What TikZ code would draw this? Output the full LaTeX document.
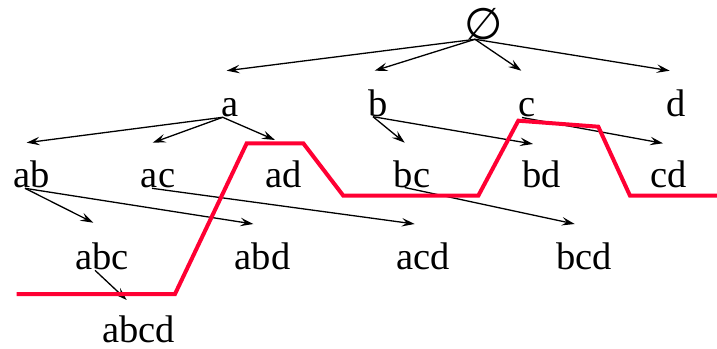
\documentclass[tikz,border=0pt]{standalone}
\usepackage{fontspec}
\setmainfont{Liberation Serif}
\newfontfamily\symfont{DejaVu Sans}
\usetikzlibrary{arrows.meta}
\definecolor{cutred}{RGB}{255,0,51}
\begin{document}
\begin{tikzpicture}[x=1pt,y=-1pt,
  lbl/.style={inner sep=0pt,anchor=base,font=\fontsize{38.5}{40}\selectfont},
  arr/.style={line width=1.3pt,-{Stealth[length=13pt,width=8.5pt,inset=5pt]}},
  cut/.style={line width=4pt,cutred,line join=miter}]
\useasboundingbox (0,0) rectangle (717,348);
% nodes
\node[inner sep=0pt,font=\symfont\fontsize{44}{46}\selectfont] (e) at (483.5,24.5) {∅};
\node[lbl] (a) at (230,116.5) {a};
\node[lbl] (b) at (378,116) {b};
\node[lbl] (c) at (527,116.5) {c};
\node[lbl] (d) at (676,116.5) {d};
\node[lbl] (ab) at (31.7,187) {ab};
\node[lbl] (ac) at (158,187) {ac};
\node[lbl] (ad) at (284,187) {ad};
\node[lbl] (bc) at (412,187) {bc};
\node[lbl] (bd) at (541.7,187) {bd};
\node[lbl] (cd) at (669,187) {cd};
\node[lbl] (abc) at (102,269.5) {abc};
\node[lbl] (abd) at (262.5,269.5) {abd};
\node[lbl] (acd) at (423,269.5) {acd};
\node[lbl] (bcd) at (584,269.5) {bcd};
\node[lbl] (abcd) at (138.5,342.5) {abcd};
% arrows
\draw[arr] ([shift={(-8.5,14.8)}]e.center) -- ([shift={(-3.3,-45.8)}]a.base);
\draw[arr] ([shift={(-8.5,14.8)}]e.center) -- ([shift={(-3.3,-45.3)}]b.base);
\draw[arr] ([shift={(-8.5,14.8)}]e.center) -- ([shift={(-5.7,-45.8)}]c.base);
\draw[arr] ([shift={(-8.5,14.8)}]e.center) -- ([shift={(-6.3,-45.8)}]d.base);
\draw[arr] ([shift={(-7.3,0.8)}]a.base) -- ([shift={(-5,-44.3)}]ab.base);
\draw[arr] ([shift={(-7.3,0.8)}]a.base) -- ([shift={(-5.3,-44.3)}]ac.base);
\draw[arr] ([shift={(-7.3,0.8)}]a.base) -- ([shift={(-9,-47)}]ad.base);
\draw[arr] ([shift={(-5,0.7)}]b.base) -- ([shift={(-7.3,-44.3)}]bc.base);
\draw[arr] ([shift={(-5,0.7)}]b.base) -- ([shift={(-8.7,-43)}]bd.base);
\draw[arr] ([shift={(-5,1)}]c.base) -- ([shift={(-6,-43.7)}]cd.base);
\draw[arr] ([shift={(-6.7,1.3)}]ab.base) -- ([shift={(-8.7,-46.8)}]abc.base);
\draw[arr] ([shift={(-6.7,1.3)}]ab.base) -- ([shift={(-9.2,-45.5)}]abd.base);
\draw[arr] ([shift={(-6,1.3)}]ac.base) -- ([shift={(-8.3,-45.5)}]acd.base);
\draw[arr] ([shift={(-7.3,0.5)}]bc.base) -- ([shift={(-9.3,-45.5)}]bcd.base);
\draw[arr] ([shift={(-7,0.8)}]abc.base) -- ([shift={(-11.8,-42.5)}]abcd.base);
% cut line
\draw[cut] (16.7,294) -- (175,294) -- (246.7,143.3) -- (303.3,143.3) -- (343.3,195.7)
  -- (478.3,195.7) -- (518.3,120.7) -- (598.3,126.7) -- (630,195.7) -- (717,195.7);
\end{tikzpicture}
\end{document}
